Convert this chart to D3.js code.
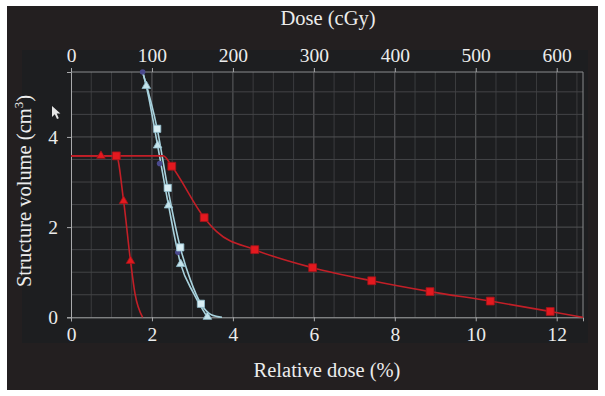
<!DOCTYPE html>
<html>
<head>
<meta charset="utf-8">
<script src="https://cdn.jsdelivr.net/npm/d3@7"></script>
<style>
	body { margin: 0; background: #fff; }
	text { font-family: "Liberation Serif", "DejaVu Serif", serif; fill: #ececec; }
</style>
</head>
<body>
<div id="chart"></div>
<script>
// relative dose (%) vs structure volume (cm3)
var redTriLine = [[0, 3.58], [0.74, 3.58], [1.12, 3.58], [1.30, 2.58], [1.47, 1.25], [1.58, 0.53], [1.77, 0]];
var redTriMarks = [[0.74, 3.58], [1.30, 2.58], [1.47, 1.25]];

var redSqLine = [[0, 3.58], [1.12, 3.58], [2.28, 3.58], [2.49, 3.35], [3.29, 2.21], [3.6, 1.90], [4.54, 1.50],
	[5.97, 1.10], [7.43, 0.81], [8.87, 0.57], [10.36, 0.36], [11.84, 0.13], [12.65, 0]];
var redSqMarks = [[1.12, 3.58], [2.49, 3.35], [3.29, 2.21], [4.54, 1.50], [5.97, 1.10], [7.43, 0.81],
	[8.87, 0.57], [10.36, 0.36], [11.84, 0.13]];

var blueSqLine = [[1.77, 5.44], [2.13, 4.18], [2.39, 2.87], [2.70, 1.55], [2.95, 0.83], [3.21, 0.30], [3.48, 0.05], [3.73, 0]];
var blueSqMarks = [[2.13, 4.18], [2.39, 2.87], [2.70, 1.55], [3.21, 0.30]];

var blueTriLine = [[1.77, 5.44], [1.86, 5.13], [2.14, 3.81], [2.41, 2.48], [2.71, 1.18], [3.03, 0.53], [3.37, 0]];
var blueTriMarks = [[1.86, 5.13], [2.14, 3.81], [2.41, 2.48], [2.71, 1.18], [3.37, 0.01]];

var darkMarks = [[1.77, 5.44], [2.19, 3.41], [2.64, 1.44]];

var xTicks = [0, 2, 4, 6, 8, 10, 12];
var yTicks = [0, 2, 4];
var doseTicks = [0, 100, 200, 300, 400, 500, 600];
var cGyPerPercent = 50;

var W = 605, H = 396;
var svg = d3.select("#chart").append("svg")
	.attr("width", W)
	.attr("height", H);

// backgrounds
svg.append("rect").attr("x", 7).attr("y", 6).attr("width", 591).attr("height", 384).attr("fill", "#231f20");
svg.append("rect").attr("x", 22).attr("y", 50).attr("width", 566).attr("height", 293).attr("fill", "#1d1e20");

var x = d3.scaleLinear().domain([0, 12.65]).range([71, 583]);
var y = d3.scaleLinear().domain([0, 5.44]).range([317.3, 72]);
var xDose = d3.scaleLinear().domain([0, 12.65 * cGyPerPercent]).range([71, 583]);

// grid
var grid = svg.append("g");
var vLines = d3.range(0.5, 12.6, 0.5);
grid.selectAll("line.v")
	.data(vLines)
	.enter().append("line")
	.attr("x1", function(d){ return x(d); })
	.attr("x2", function(d){ return x(d); })
	.attr("y1", y(0))
	.attr("y2", y(5.44))
	.attr("stroke", function(d){ return d % 2 === 0 ? "#606163" : "#3b3c3e"; })
	.attr("stroke-width", 1);

var hLines = d3.range(0.5, 5.1, 0.5);
grid.selectAll("line.h")
	.data(hLines)
	.enter().append("line")
	.attr("x1", x(0))
	.attr("x2", x(12.65))
	.attr("y1", function(d){ return y(d); })
	.attr("y2", function(d){ return y(d); })
	.attr("stroke", function(d){ return d % 2 === 0 ? "#515254" : "#434446"; })
	.attr("stroke-width", 1);

// frame top + right
svg.append("line").attr("x1", x(0)).attr("x2", x(12.65)).attr("y1", y(5.44)).attr("y2", y(5.44))
	.attr("stroke", "#8a8b8d");
svg.append("line").attr("x1", x(12.65)).attr("x2", x(12.65)).attr("y1", y(0)).attr("y2", y(5.44))
	.attr("stroke", "#8a8b8d");

// axes
var xAxis = d3.axisBottom(x).tickValues(xTicks).tickFormat(d3.format("d")).tickSize(4).tickPadding(6);
var yAxis = d3.axisLeft(y).tickValues(yTicks).tickFormat(d3.format("d")).tickSize(4).tickPadding(9);
var topAxis = d3.axisTop(xDose).tickValues(doseTicks).tickFormat(d3.format("d")).tickSize(4).tickPadding(6);

function styleAxis(g) {
	g.select(".domain").attr("stroke", "#a9aaac");
	g.selectAll(".tick line").attr("stroke", "#a9aaac");
	g.selectAll("text").attr("font-size", 19.5).attr("fill", "#ececec")
		.style("font-family", "'Liberation Serif', serif");
}

svg.append("g").attr("transform", "translate(0," + y(0) + ")").call(xAxis).call(styleAxis);
svg.append("g").attr("transform", "translate(" + x(0) + ",0)").call(yAxis).call(styleAxis);
svg.append("g").attr("transform", "translate(0," + y(5.44) + ")").call(topAxis).call(styleAxis)
	.select(".domain").remove();

// titles
svg.append("text").attr("x", 328).attr("y", 25).attr("text-anchor", "middle")
	.attr("font-size", 20.5).text("Dose (cGy)");
svg.append("text").attr("x", 327).attr("y", 377).attr("text-anchor", "middle")
	.attr("font-size", 20.5).text("Relative dose (%)");
var yt = svg.append("text").attr("transform", "translate(31,191) rotate(-90)")
	.attr("text-anchor", "middle").attr("font-size", 20.5);
yt.append("tspan").text("Structure volume (cm");
yt.append("tspan").attr("font-size", 13).attr("dy", -8).text("3");
yt.append("tspan").attr("dy", 8).text(")");

// lines
var line = d3.line()
	.x(function(d){ return x(d[0]); })
	.y(function(d){ return y(d[1]); })
	.curve(d3.curveMonotoneX);

var plot = svg.append("g");

function drawLine(data, color, w) {
	plot.append("path").datum(data)
		.attr("d", line)
		.attr("fill", "none")
		.attr("stroke", color)
		.attr("stroke-width", w);
}

drawLine(blueSqLine, "#a8d2dd", 1.6);
drawLine(blueTriLine, "#a8d2dd", 1.6);

plot.selectAll("circle.dark")
	.data(darkMarks)
	.enter().append("circle")
	.attr("cx", function(d){ return x(d[0]); })
	.attr("cy", function(d){ return y(d[1]); })
	.attr("r", 2.8)
	.attr("fill", "#4b4a8e");

drawLine(redTriLine, "#c21f27", 1.6);
drawLine(redSqLine, "#c21f27", 1.6);

var sq = d3.symbol().type(d3.symbolSquare).size(52);
var tri = d3.symbol().type(d3.symbolTriangle).size(32);
var sqRed = d3.symbol().type(d3.symbolSquare).size(62);

function drawMarks(data, sym, fill, stroke) {
	plot.append("g").selectAll("path")
		.data(data)
		.enter().append("path")
		.attr("transform", function(d){ return "translate(" + x(d[0]) + "," + y(d[1]) + ")"; })
		.attr("d", sym)
		.attr("fill", fill)
		.attr("stroke", stroke)
		.attr("stroke-width", 0.8);
}

drawMarks(blueSqMarks, sq, "#d9eff5", "#8fbccb");
drawMarks(blueTriMarks, tri, "#c4e3eb", "#8fbccb");
drawMarks(redTriMarks, tri, "#e3191f", "#a3141a");
drawMarks(redSqMarks, sqRed, "#e3191f", "#a3141a");

// mouse pointer glyph seen in the picture
svg.append("path")
	.attr("transform", "translate(52,106)")
	.attr("d", "M0,0 L0,11 L2.8,8.3 L5,13 L6.8,12.2 L4.7,7.6 L8.4,7.6 Z")
	.attr("fill", "#e6e6e6");
</script>
</body>
</html>
